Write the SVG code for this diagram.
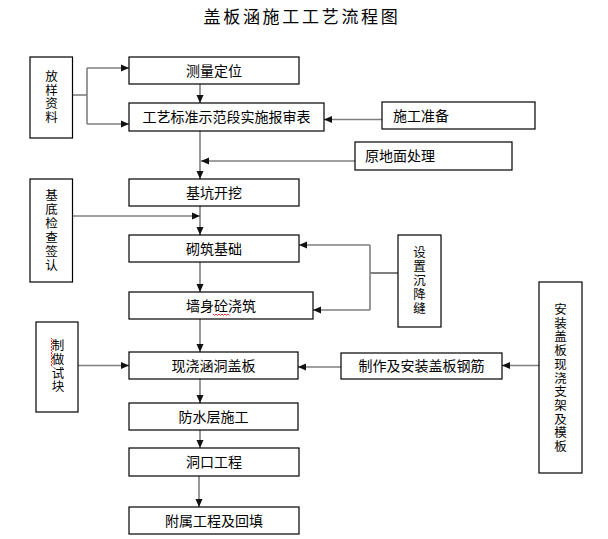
<svg xmlns="http://www.w3.org/2000/svg" width="608" height="539" viewBox="0 0 608 539">
<defs>
<marker id="ah" markerUnits="userSpaceOnUse" markerWidth="8" markerHeight="8" refX="8" refY="4" orient="auto">
<path d="M0,0.5 L8,4 L0,7.5 z" fill="#111"/>
</marker>
<style>
.box{fill:#fff;stroke:#000;stroke-width:1.2}
.t{font-family:"Noto Sans CJK SC","Noto Sans",sans-serif;font-size:14px;fill:#000}
.c{text-anchor:middle}
.v{font-family:"Noto Sans CJK SC","Noto Sans",sans-serif;font-size:12.5px;fill:#000;text-anchor:middle}
.ln{fill:none;stroke:#7f7f7f;stroke-width:1.6}
.ar{fill:none;stroke:#7f7f7f;stroke-width:1.6;marker-end:url(#ah)}
.sq{fill:none;stroke:#e00000;stroke-width:0.8}
</style>
</defs>
<rect width="608" height="539" fill="#fff"/>
<text x="302" y="23" class="t c" style="font-size:17px;letter-spacing:2.7px">盖板涵施工工艺流程图</text>

<g id="connectors">
<polyline class="ln" points="72.5,95 87,95"/>
<polyline class="ln" points="87,68 87,124"/>
<line class="ar" x1="87" y1="68" x2="129" y2="68"/>
<line class="ar" x1="87" y1="124" x2="129" y2="124"/>
<line class="ar" x1="200" y1="84" x2="200" y2="103"/>
<line class="ar" x1="382" y1="119.5" x2="324" y2="119.5"/>
<line class="ar" x1="200" y1="131" x2="200" y2="179"/>
<line class="ar" x1="355" y1="161" x2="201" y2="161"/>
<line class="ar" x1="200" y1="206" x2="200" y2="235"/>
<line class="ar" x1="72.5" y1="216" x2="200" y2="216"/>
<line x1="398" y1="273" x2="370" y2="273" stroke="#000" stroke-width="1"/>
<polyline class="ln" points="370,245 370,310"/>
<line class="ar" x1="370" y1="245" x2="299" y2="245"/>
<line class="ar" x1="370" y1="310" x2="313" y2="310"/>
<line class="ar" x1="200" y1="262" x2="200" y2="292"/>
<line class="ar" x1="200" y1="319" x2="200" y2="352"/>
<line class="ar" x1="78" y1="365.5" x2="129" y2="365.5"/>
<line class="ar" x1="341" y1="367" x2="298" y2="367"/>
<line class="ar" x1="539" y1="365.5" x2="502" y2="365.5"/>
<line class="ar" x1="200" y1="379" x2="200" y2="403"/>
<line class="ar" x1="200" y1="430" x2="200" y2="448"/>
<line class="ar" x1="199" y1="476" x2="199" y2="507"/>
</g>

<g id="n-fangyang"><rect class="box" x="30" y="57" width="42.5" height="81"/>
<text class="v"><tspan x="51.5" y="81">放</tspan><tspan x="51.5" y="94.5">样</tspan><tspan x="51.5" y="108">资</tspan><tspan x="51.5" y="121.5">料</tspan></text></g>

<g id="n-celiang"><rect class="box" x="129" y="57" width="170" height="27"/>
<text class="t c" x="214" y="75.5">测量定位</text></g>

<g id="n-gongyi"><rect class="box" x="129" y="103" width="195" height="28"/>
<text class="t c" x="226.5" y="122">工艺标准示范段实施报审表</text></g>

<g id="n-shigong"><rect class="box" x="382" y="102" width="153" height="27"/>
<text class="t" x="393" y="120.5">施工准备</text></g>

<g id="n-yuandimian"><rect class="box" x="355" y="142" width="157" height="28"/>
<text class="t" x="365" y="161">原地面处理</text></g>

<g id="n-jikeng"><rect class="box" x="129" y="179" width="170" height="27"/>
<text class="t c" x="214" y="197.5">基坑开挖</text></g>

<g id="n-jidi"><rect class="box" x="30" y="179" width="42.5" height="103"/>
<text class="v"><tspan x="51.5" y="200">基</tspan><tspan x="51.5" y="214">底</tspan><tspan x="51.5" y="228">检</tspan><tspan x="51.5" y="242">查</tspan><tspan x="51.5" y="256">签</tspan><tspan x="51.5" y="270">认</tspan></text></g>

<g id="n-qizhu"><rect class="box" x="129" y="235" width="170" height="27"/>
<text class="t c" x="214" y="253.5">砌筑基础</text></g>

<g id="n-qiangshen"><rect class="box" x="129" y="292" width="184" height="27"/>
<text class="t c" x="221" y="310.5">墙身砼浇筑</text>
<polyline class="sq" points="213,314 214.5,315.5 216,314 217.5,315.5 219,314 220.5,315.5 222,314 223.5,315.5 225,314 226.5,315.5 228,314 229.5,315.5"/></g>

<g id="n-shezhi"><rect class="box" x="398" y="235" width="43" height="92"/>
<text class="v"><tspan x="419.5" y="257">设</tspan><tspan x="419.5" y="271">置</tspan><tspan x="419.5" y="285">沉</tspan><tspan x="419.5" y="299">降</tspan><tspan x="419.5" y="313">缝</tspan></text></g>

<g id="n-anzhuang"><rect class="box" x="539" y="282" width="43" height="191"/>
<text class="v"><tspan x="560.5" y="314">安</tspan><tspan x="560.5" y="327.7">装</tspan><tspan x="560.5" y="341.4">盖</tspan><tspan x="560.5" y="355.1">板</tspan><tspan x="560.5" y="368.8">现</tspan><tspan x="560.5" y="382.5">浇</tspan><tspan x="560.5" y="396.2">支</tspan><tspan x="560.5" y="409.9">架</tspan><tspan x="560.5" y="423.6">及</tspan><tspan x="560.5" y="437.3">模</tspan><tspan x="560.5" y="451">板</tspan></text></g>

<g id="n-zhizuo"><rect class="box" x="36" y="322" width="42" height="90"/>
<text class="v"><tspan x="58" y="350">制</tspan><tspan x="58" y="363.7">做</tspan><tspan x="58" y="377.5">试</tspan><tspan x="58" y="391">块</tspan></text>
<polyline class="sq" points="51,338 52.5,339.5 51,341 52.5,342.5 51,344 52.5,345.5 51,347 52.5,348.5 51,350 52.5,351.5 51,353 52.5,354.5 51,356 52.5,357.5 51,359 52.5,360.5 51,362 52.5,363.5 51,365 52.5,366.5"/></g>

<g id="n-xianjiao"><rect class="box" x="129" y="352" width="169" height="27"/>
<text class="t c" x="213.5" y="370.5">现浇涵洞盖板</text></g>

<g id="n-gangjin"><rect class="box" x="341" y="353" width="161" height="26"/>
<text class="t c" x="421.5" y="371">制作及安装盖板钢筋</text></g>

<g id="n-fangshui"><rect class="box" x="129" y="403" width="169" height="27"/>
<text class="t c" x="213.5" y="421.5">防水层施工</text></g>

<g id="n-dongkou"><rect class="box" x="129" y="448" width="170" height="28"/>
<text class="t c" x="214" y="467">洞口工程</text></g>

<g id="n-fushu"><rect class="box" x="129" y="507" width="170" height="27"/>
<text class="t c" x="214" y="525.5">附属工程及回填</text></g>
</svg>
